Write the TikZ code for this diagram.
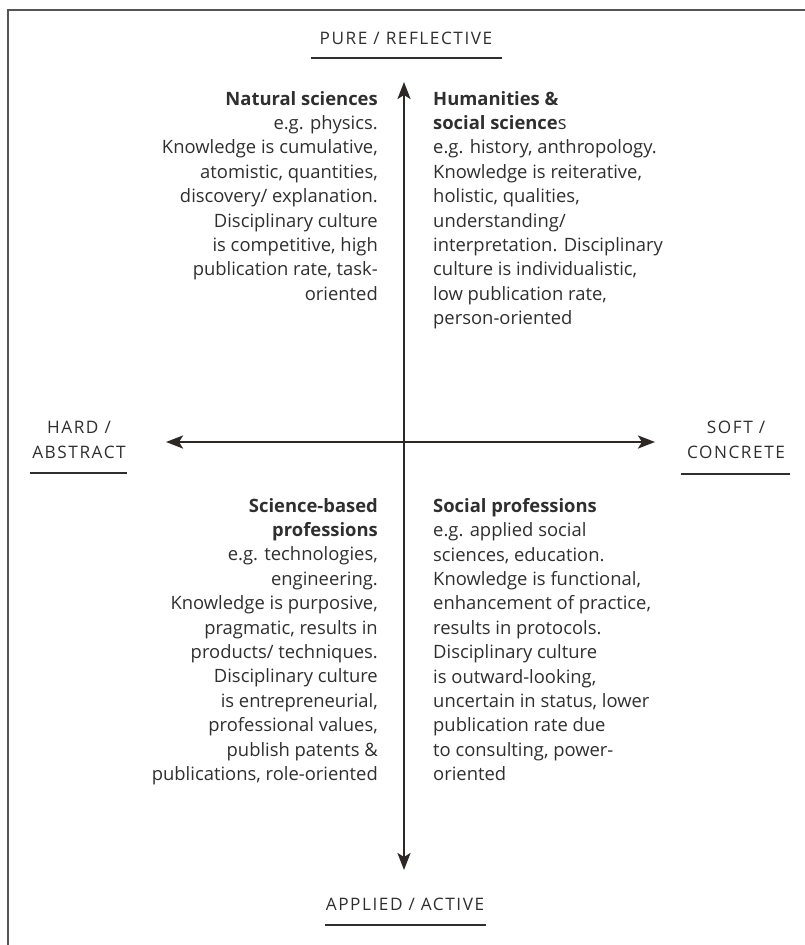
\documentclass[tikz,border=0pt]{standalone}
\usepackage{fontspec}
\setmainfont{Open Sans}
\newfontfamily\polefont[LetterSpace=9]{Open Sans}
\usetikzlibrary{arrows.meta}
\definecolor{ink}{HTML}{2F2F2F}
\definecolor{axisbrown}{HTML}{2D2823}
\definecolor{framegray}{HTML}{555555}

\begin{document}
\begin{tikzpicture}[x=1pt,y=-1pt,
		quad/.style={font=\fontsize{18.4}{24.4}\selectfont, text=ink, inner sep=0pt},
		pole/.style={font=\fontsize{17.2}{25.5}\polefont, text=ink, align=center, inner sep=0pt},
		rule/.style={line width=1.1pt, ink},
		axisline/.style={axisbrown, line width=2.6pt, -{Stealth[length=17pt,width=13pt,inset=4pt]}}]
	\useasboundingbox (0,0) rectangle (805,945);
	% open frame (top and left edge only)
	\draw [framegray, line width=2pt] (8,945) -- (8,10) -- (805,10);

	% axis ends
	\coordinate (origin) at (404,442);
	\coordinate (pure) at (404,82);
	\coordinate (applied) at (404,870);
	\coordinate (hard) at (166,442);
	\coordinate (soft) at (655,442);
	\draw [axisline] (origin) -- (pure);
	\draw [axisline] (origin) -- (applied);
	\draw [axisline] (origin) -- (hard);
	\draw [axisline] (origin) -- (soft);

	% pole labels
	\node [pole] (top) at (406,38) {PURE / REFLECTIVE};
	\draw [rule] (311,58) -- (502,58);
	\node [pole] (bottom) at (405,904) {APPLIED / ACTIVE};
	\draw [rule] (325,925) -- (486,925);
	\node [pole] (left) at (79,440) {HARD /\\ABSTRACT};
	\draw [rule] (30,473) -- (127,473);
	\node [pole] (right) at (736,440) {SOFT /\\CONCRETE};
	\draw [rule] (681,474) -- (790,474);

	% quadrants
	\node [quad, align=right, anchor=north east] (natural) at (378,91) {\textbf{Natural sciences}\\
		e.g. physics.\\
		Knowledge is cumulative,\\
		atomistic, quantities,\\
		discovery/ explanation.\\
		Disciplinary culture\\
		is competitive, high\\
		publication rate, task-\\
		oriented};
	\node [quad, align=left, anchor=north west] (humanities) at (433,91) {\textbf{Humanities \&}\\
		\textbf{social science}s\\
		e.g. history, anthropology.\\
		Knowledge is reiterative,\\
		holistic, qualities,\\
		understanding/\\
		interpretation. Disciplinary\\
		culture is individualistic,\\
		low publication rate,\\
		person-oriented};
	\node [quad, align=right, anchor=north east] (sciprof) at (378,498) {\textbf{Science-based}\\
		\textbf{professions}\\
		e.g. technologies,\\
		engineering.\\
		Knowledge is purposive,\\
		pragmatic, results in\\
		products/ techniques.\\
		Disciplinary culture\\
		is entrepreneurial,\\
		professional values,\\
		publish patents \&\\
		publications, role-oriented};
	\node [quad, align=left, anchor=north west] (socprof) at (433,498) {\textbf{Social professions}\\
		e.g. applied social\\
		sciences, education.\\
		Knowledge is functional,\\
		enhancement of practice,\\
		results in protocols.\\
		Disciplinary culture\\
		is outward-looking,\\
		uncertain in status, lower\\
		publication rate due\\
		to consulting, power-\\
		oriented};
\end{tikzpicture}
\end{document}
